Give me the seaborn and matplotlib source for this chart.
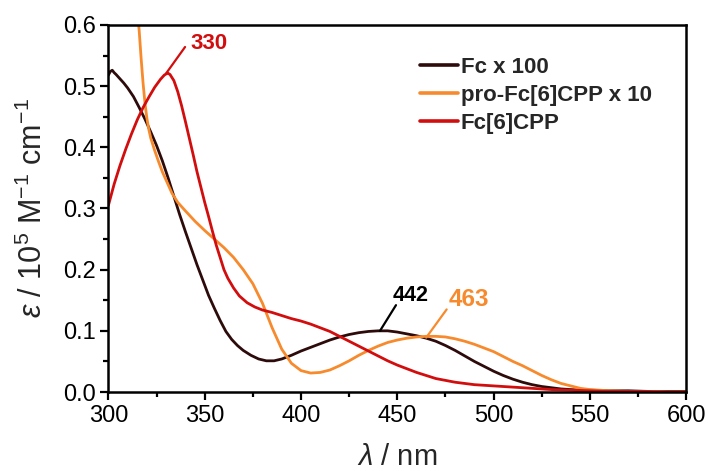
import numpy as np
import pandas as pd
import matplotlib
matplotlib.use("Agg")
import matplotlib.pyplot as plt
from matplotlib.ticker import MultipleLocator, FormatStrFormatter
import seaborn as sns

# Fc x 100
fc_nm = [300, 301, 302, 303, 304, 306, 308, 310, 313, 316, 319, 322, 325, 328, 331, 334,
         337, 340, 343, 346, 349, 352, 355, 358, 361, 364, 367, 370, 374, 378, 382, 386,
         390, 395, 400, 405, 410, 415, 420, 425, 430, 435, 440, 445, 450, 455, 460, 465,
         470, 475, 480, 485, 490, 495, 500, 505, 510, 515, 520, 525, 530, 535, 540, 545,
         550, 560, 570, 580, 590, 600]
fc = [0.518, 0.524, 0.526, 0.522, 0.519, 0.512, 0.505, 0.497, 0.483, 0.465, 0.446, 0.425,
      0.403, 0.378, 0.350, 0.320, 0.290, 0.262, 0.235, 0.208, 0.183, 0.158, 0.137, 0.117,
      0.099, 0.086, 0.076, 0.068, 0.060, 0.054, 0.051, 0.051, 0.054, 0.060, 0.067, 0.073,
      0.079, 0.085, 0.090, 0.094, 0.097, 0.099, 0.100, 0.100, 0.098, 0.095, 0.092, 0.088,
      0.083, 0.076, 0.068, 0.059, 0.050, 0.042, 0.034, 0.027, 0.021, 0.016, 0.012, 0.009,
      0.007, 0.005, 0.004, 0.003, 0.003, 0.002, 0.002, 0.001, 0.001, 0.001]

# pro-Fc[6]CPP x 10
pro_nm = [300, 305, 310, 314, 316, 317, 318, 319, 320, 321, 322, 324, 326, 328, 330, 333,
          336, 340, 345, 350, 355, 360, 365, 370, 375, 380, 385, 390, 395, 400, 405, 410,
          415, 420, 425, 430, 435, 440, 445, 450, 455, 460, 465, 470, 475, 480, 485, 490,
          495, 500, 505, 510, 515, 520, 525, 530, 535, 540, 545, 550, 555, 560, 570, 580,
          590, 600]
pro_fc6cpp = [0.950, 0.860, 0.760, 0.660, 0.590, 0.545, 0.505, 0.472, 0.447, 0.429, 0.415,
              0.395, 0.377, 0.360, 0.346, 0.325, 0.310, 0.296, 0.279, 0.264, 0.250, 0.236,
              0.220, 0.200, 0.177, 0.145, 0.105, 0.070, 0.047, 0.035, 0.031, 0.032, 0.036,
              0.043, 0.051, 0.060, 0.068, 0.075, 0.081, 0.085, 0.088, 0.090, 0.091, 0.091,
              0.090, 0.087, 0.083, 0.078, 0.072, 0.066, 0.058, 0.050, 0.043, 0.035, 0.027,
              0.020, 0.014, 0.010, 0.006, 0.004, 0.003, 0.002, 0.001, 0.001, 0.000, 0.000]

# Fc[6]CPP
cpp_nm = [300, 303, 306, 309, 312, 315, 318, 321, 324, 327, 329, 330, 331, 332, 334, 336,
          338, 340, 342, 344, 346, 348, 350, 352, 354, 356, 358, 360, 362, 365, 368, 372,
          376, 380, 385, 390, 395, 400, 405, 410, 415, 420, 425, 430, 435, 440, 445, 450,
          455, 460, 465, 470, 475, 480, 485, 490, 495, 500, 510, 520, 530, 540, 550, 560,
          570, 580, 590, 600]
fc6cpp = [0.305, 0.340, 0.370, 0.397, 0.422, 0.445, 0.465, 0.482, 0.498, 0.511, 0.518,
          0.520, 0.521, 0.519, 0.509, 0.491, 0.468, 0.442, 0.415, 0.388, 0.360, 0.335,
          0.310, 0.287, 0.263, 0.240, 0.220, 0.200, 0.186, 0.170, 0.157, 0.146, 0.139,
          0.134, 0.130, 0.125, 0.120, 0.116, 0.111, 0.105, 0.099, 0.091, 0.083, 0.075,
          0.067, 0.059, 0.051, 0.044, 0.038, 0.032, 0.027, 0.022, 0.019, 0.016, 0.014,
          0.012, 0.011, 0.010, 0.008, 0.006, 0.004, 0.003, 0.002, 0.001, 0.001, 0.001,
          0.000, 0.000]

series_names = ["Fc x 100", "pro-Fc[6]CPP x 10", "Fc[6]CPP"]
series_colors = ["#2e0b0b", "#f78a2c", "#d20d0d"]

# Peak labels: text, peak wavelength, peak value, leader end, text position, colour, size
peak_text = ["330", "442", "463"]
peak_nm = [330, 441, 465]
peak_val = [0.521, 0.100, 0.089]
leader_end = [(339.8, 0.564), (449.3, 0.142), (475.6, 0.135)]
text_pos = [(352, 0.570), (457, 0.158), (487, 0.151)]
peak_colors = ["#d20d0d", "#000000", "#f78a2c"]
peak_sizes = [16, 15.5, 17.5]

df = pd.concat([
    pd.DataFrame({"wavelength": nm, "eps": vals, "sample": name})
    for name, nm, vals in zip(series_names, [fc_nm, pro_nm, cpp_nm],
                              [fc, pro_fc6cpp, fc6cpp])
])

sns.set_theme(style="ticks")
plt.rcParams["font.family"] = ["Liberation Sans", "DejaVu Sans"]
plt.rcParams["mathtext.fontset"] = "custom"
plt.rcParams["mathtext.rm"] = "Liberation Sans"
plt.rcParams["mathtext.it"] = "Liberation Sans:italic"
plt.rcParams["mathtext.bf"] = "Liberation Sans:bold"

fig = plt.figure(figsize=(7.08, 4.71), dpi=100)
ax = fig.add_axes([0.1531, 0.1677, 0.8162, 0.7793])

sns.lineplot(data=df, x="wavelength", y="eps", hue="sample", hue_order=series_names,
             palette=series_colors, linewidth=2.0, ax=ax, sort=False)

ax.set_xlim(300, 600)
ax.set_ylim(0, 0.6)
ax.xaxis.set_major_locator(MultipleLocator(50))
ax.xaxis.set_minor_locator(MultipleLocator(25))
ax.yaxis.set_major_locator(MultipleLocator(0.1))
ax.yaxis.set_minor_locator(MultipleLocator(0.05))
ax.yaxis.set_major_formatter(FormatStrFormatter("%.1f"))

for side in ["left", "right", "top", "bottom"]:
    ax.spines[side].set_visible(True)
    ax.spines[side].set_linewidth(1.8)
    ax.spines[side].set_color("black")
ax.tick_params(which="major", direction="out", length=6, width=1.6, labelsize=17,
               colors="black", pad=3)
ax.tick_params(which="minor", direction="out", length=3.5, width=1.6, colors="black")

ax.set_xlabel(r"$\lambda$ / nm", fontsize=21, labelpad=12)
ax.set_ylabel(r"$\varepsilon$ / 10$^5$ M$^{-1}$ cm$^{-1}$", fontsize=22, labelpad=10)

for txt, x0, y0, (lx, ly), (tx, ty), col, fs in zip(peak_text, peak_nm, peak_val,
                                                    leader_end, text_pos,
                                                    peak_colors, peak_sizes):
    ax.plot([x0, lx], [y0, ly], color=col, linewidth=1.6)
    ax.text(tx, ty, txt, color=col, fontsize=fs, fontweight="bold",
            ha="center", va="center")

leg = ax.legend(loc="upper left", bbox_to_anchor=(0.539, 0.912), frameon=False,
                fontsize=16, handlelength=1.7, handletextpad=0.15, labelspacing=0.31,
                borderaxespad=0, borderpad=0)
for t in leg.get_texts():
    t.set_fontweight("bold")
for h in leg.get_lines():
    h.set_linewidth(2.6)

fig.savefig("out.png", dpi=100)
